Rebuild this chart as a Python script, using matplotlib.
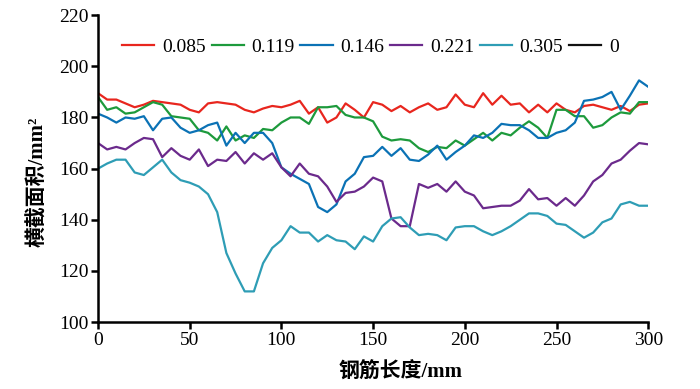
import matplotlib

matplotlib.use("Agg")

import matplotlib.pyplot as plt
import numpy as np

# --- Dados (passo de 5 mm) ------------------------------------------------
comprimento = np.arange(0, 301, 5)

taxa_085 = [189.5, 187, 187, 185.5, 184, 185, 186.5, 186, 185.5, 185, 183,
            182, 185.5, 186, 185.5, 185, 183, 182, 183.5, 184.5, 184, 185,
            186.5, 181.5, 184, 178, 180, 185.5, 183, 180, 186, 185, 182.5,
            184.5, 182, 184, 185.5, 183, 184, 189, 185, 184, 189.5, 185,
            188.5, 185, 185.5, 182, 185, 182, 185.5, 183, 182, 184.5, 185,
            184, 183, 184.5, 182.5, 185, 185.5]
taxa_119 = [188, 183, 184, 181.5, 182, 184, 186, 185, 180.5, 180, 179.5,
            175, 174, 171, 176.5, 171, 173, 172, 175.5, 175, 178, 180, 180,
            177.5, 184, 184, 184.5, 181, 180, 180, 178.5, 172.5, 171, 171.5,
            171, 168, 166.5, 168.5, 168, 171, 169, 171.5, 174, 171, 174, 173,
            176, 178.5, 176, 172, 183, 183, 180.5, 180.5, 176, 177, 180, 182,
            181.5, 186, 186]
taxa_146 = [181.5, 180, 178, 180, 179.5, 180.5, 175, 179.5, 180, 176, 174,
            175, 177, 178, 169, 174, 170, 174, 174, 170, 160.5, 158, 156,
            154, 145, 143, 146, 155, 158, 164.5, 165, 168.5, 165, 168, 163.5,
            163, 165.5, 169, 163.5, 166.5, 169, 173, 172, 174, 177.5, 177,
            177, 175, 172, 172, 174, 175, 178, 186.5, 187, 188, 190, 183,
            188.5, 194.5, 192]
taxa_221 = [170, 167.5, 168.5, 167.5, 170, 172, 171.5, 164.5, 168, 165,
            163.5, 167.5, 161, 163.5, 163, 166.5, 162, 166, 163.5, 166, 160.5,
            157, 162, 158, 157, 153, 147, 150.5, 151, 153, 156.5, 155, 140.5,
            137.5, 137.5, 154, 152.5, 154, 151, 155, 151, 149.5, 144.5, 145,
            145.5, 145.5, 147.5, 152, 148, 148.5, 145.5, 148.5, 145.5, 149.5,
            155, 157.5, 162, 163.5, 167, 170, 169.5]
taxa_305 = [160, 162, 163.5, 163.5, 158.5, 157.5, 160.5, 163.5, 158.5, 155.5,
            154.5, 153, 150, 143, 127, 119, 112, 112, 123, 129, 132, 137.5,
            135, 135, 131.5, 134, 132, 131.5, 128.5, 133.5, 131.5, 137.5,
            140.5, 141, 137, 134, 134.5, 134, 132, 137, 137.5, 137.5, 135.5,
            134, 135.5, 137.5, 140, 142.5, 142.5, 141.5, 138.5, 138, 135.5,
            133, 135, 139, 140.5, 146, 147, 145.5, 145.5]
taxa_0 = []  # série "0" aparece só na legenda

rotulos = ["0.085", "0.119", "0.146", "0.221", "0.305", "0"]
cores = ["#e8261e", "#1d9a3c", "#0b72b5", "#6b2a8c", "#2e9db5", "#111111"]
series = [taxa_085, taxa_119, taxa_146, taxa_221, taxa_305, taxa_0]

SERIF = ["Liberation Serif", "Noto Sans CJK SC"]
plt.rcParams["font.family"] = SERIF

fig = plt.figure(figsize=(7.0, 3.89), dpi=100)
ax = fig.add_axes([0.14, 0.172, 0.786, 0.789])

for valores, cor, rotulo in zip(series, cores, rotulos):
    ax.plot(comprimento[:len(valores)], valores, color=cor, lw=1.6, label=rotulo)

ax.set_xlim(0, 300)
ax.set_ylim(100, 220)
ax.set_xticks(np.arange(0, 301, 50))
ax.set_yticks(np.arange(100, 221, 20))

for lado in ("top", "right"):
    ax.spines[lado].set_visible(False)
for lado in ("left", "bottom"):
    ax.spines[lado].set_linewidth(1.8)
ax.tick_params(direction="out", length=5, width=1.8, labelsize=14, pad=2)

ax.set_xlabel("钢筋长度/mm", fontsize=15, fontweight="bold")
ax.set_ylabel("横截面积/mm²", fontsize=15, fontweight="bold")
ax.xaxis.set_label_coords(0.55, -0.13)
ax.yaxis.set_label_coords(-0.091, 0.456)

ax.legend(loc="center left", bbox_to_anchor=(0.044, 0.896), ncol=6, frameon=False,
          fontsize=14, handlelength=1.65, handletextpad=0.4, columnspacing=0.3,
          borderpad=0, borderaxespad=0)

fig.savefig("out.png", dpi=100, facecolor="white")
